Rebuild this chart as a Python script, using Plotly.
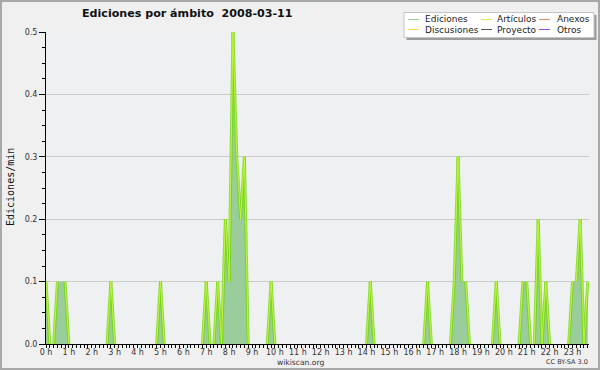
import plotly.graph_objects as go

# ---------------- data (edits per minute, 10-minute bins, 2008-03-11) ----------------
# one row per hour, 6 bins (00,10,20,30,40,50 min); last hour ends at 23:40
ediciones_by_hour = [
    [0.1, 0, 0, 0.1, 0.1, 0.1],   # 0 h
    [0, 0, 0, 0, 0, 0],           # 1 h
    [0, 0, 0, 0, 0, 0.1],         # 2 h
    [0, 0, 0, 0, 0, 0],           # 3 h
    [0, 0, 0, 0, 0, 0],           # 4 h
    [0.1, 0, 0, 0, 0, 0],         # 5 h
    [0, 0, 0, 0, 0, 0],           # 6 h
    [0.1, 0, 0, 0.1, 0, 0.2],     # 7 h
    [0.1, 0.5, 0.3, 0.2, 0.3, 0], # 8 h
    [0, 0, 0, 0, 0, 0.1],         # 9 h
    [0, 0, 0, 0, 0, 0],           # 10 h
    [0, 0, 0, 0, 0, 0],           # 11 h
    [0, 0, 0, 0, 0, 0],           # 12 h
    [0, 0, 0, 0, 0, 0],           # 13 h
    [0, 0.1, 0, 0, 0, 0],         # 14 h
    [0, 0, 0, 0, 0, 0],           # 15 h
    [0, 0, 0, 0, 0.1, 0],         # 16 h
    [0, 0, 0, 0, 0, 0.1],         # 17 h
    [0.3, 0.1, 0.1, 0, 0, 0],     # 18 h
    [0, 0, 0, 0, 0.1, 0],         # 19 h
    [0, 0, 0, 0, 0, 0.1],         # 20 h
    [0.1, 0, 0, 0.2, 0, 0.1],     # 21 h
    [0, 0, 0, 0, 0, 0],           # 22 h
    [0.1, 0.1, 0.2, 0, 0.1],      # 23 h
]
bin_minutes = [0, 10, 20, 30, 40, 50]

legend_names = ["Ediciones", "Artículos", "Anexos", "Discusiones", "Proyecto", "Otros"]
legend_colors = ["#8fd48f", "#c8f040", "#f08a5c", "#f8d458", "#555555", "#9a4cf0"]

title_text = "Ediciones por ámbito\u00a0 2008-03-11"
y_title = "Ediciones/min"
footer_text = "wikiscan.org"
license_text = "CC BY-SA 3.0"

# ---------------- build series ----------------
hours, ediciones = [], []
for h, row in enumerate(ediciones_by_hour):
    for m, v in zip(bin_minutes, row):
        hours.append(h + m / 60)
        ediciones.append(v)
articulos = list(ediciones)  # all edits are in article namespace

# sloped segments only (the reference pen shows only on rising/falling edges)
seg_x, seg_y = [], []
for i in range(len(hours) - 1):
    if articulos[i] != articulos[i + 1]:
        seg_x += [hours[i], hours[i + 1], None]
        seg_y += [articulos[i], articulos[i + 1], None]

# ---------------- geometry ----------------
W, H = 600, 370
L, R, T, B = 46, 11, 32, 26
PW, PH = W - L - R, H - T - B

def px(x):
    return (x - L) / PW

def py(y):
    return (H - B - y) / PH

FONT = "DejaVu Sans"

fig = go.Figure()
fig.add_trace(go.Scatter(
    x=hours, y=ediciones, mode="lines", line=dict(width=0, color="rgba(0,0,0,0)"),
    fill="tozeroy", fillcolor="rgba(148,201,148,0.93)", showlegend=False, hoverinfo="skip"))
fig.add_trace(go.Scatter(
    x=seg_x, y=seg_y, mode="lines", line=dict(width=3, color="rgba(112,212,0,0.75)"),
    showlegend=False, hoverinfo="skip"))
fig.add_trace(go.Scatter(
    x=seg_x, y=seg_y, mode="lines", line=dict(width=1, color="rgba(196,248,70,0.9)"),
    showlegend=False, hoverinfo="skip"))

shapes = []
annotations = []

# outer frame
shapes.append(dict(type="rect", xref="paper", yref="paper",
                   x0=px(1), x1=px(599), y0=py(369), y1=py(1),
                   line=dict(color="#a8a8a8", width=2), fillcolor="rgba(0,0,0,0)", layer="above"))

# legend box with shadow
bx0, bx1, by0, by1 = 404, 594, 12.5, 37.5
shapes.append(dict(type="rect", xref="paper", yref="paper",
                   x0=px(bx0 + 2.5), x1=px(bx1 + 2.5), y0=py(by1 + 2.5), y1=py(by0 + 2.5),
                   line=dict(width=0), fillcolor="#9c9c9c", layer="above"))
shapes.append(dict(type="rect", xref="paper", yref="paper",
                   x0=px(bx0), x1=px(bx1), y0=py(by1), y1=py(by0),
                   line=dict(color="#c4c4c4", width=1), fillcolor="#ffffff", layer="above"))
col_line_x = [408, 481, 539]
col_text_x = [423, 495, 555]
row_y = [19.5, 29.5]
for k, (name, col) in enumerate(zip(legend_names, legend_colors)):
    r, c = divmod(k, 3)
    shapes.append(dict(type="line", xref="paper", yref="paper",
                       x0=px(col_line_x[c]), x1=px(col_line_x[c] + 11),
                       y0=py(row_y[r]), y1=py(row_y[r]),
                       line=dict(color=col, width=1), layer="above"))
    annotations.append(dict(text=name, xref="paper", yref="paper",
                            x=px(col_text_x[c]), y=py(row_y[r]), xanchor="left", yanchor="middle",
                            showarrow=False, font=dict(family=FONT, size=9, color="#222222")))

# title
annotations.append(dict(text=f"<b>{title_text}</b>", xref="paper", yref="paper",
                        x=px(187.5), y=py(14), xanchor="center", yanchor="middle", showarrow=False,
                        font=dict(family=FONT, size=11.1, color="#111111")))
# y axis title
annotations.append(dict(text=y_title, xref="paper", yref="paper", x=px(10.5), y=py(187.5),
                        xanchor="center", yanchor="middle", textangle=-90, showarrow=False,
                        font=dict(family="DejaVu Sans Mono", size=10, color="#111111")))
# footer
annotations.append(dict(text=footer_text, xref="paper", yref="paper", x=px(300), y=py(362),
                        xanchor="center", yanchor="middle", showarrow=False,
                        font=dict(family=FONT, size=7.6, color="#333333")))
annotations.append(dict(text=license_text, xref="paper", yref="paper", x=px(590), y=py(362),
                        xanchor="right", yanchor="middle", showarrow=False,
                        font=dict(family=FONT, size=6.5, color="#333333")))

fig.update_layout(
    width=W, height=H, margin=dict(l=L, r=R, t=T, b=B, pad=0, autoexpand=False),
    paper_bgcolor="#f0f0f0", plot_bgcolor="#eef0f2",
    showlegend=False, shapes=shapes, annotations=annotations,
    xaxis=dict(range=[0, 23.72], tickmode="linear", tick0=0, dtick=1, ticksuffix=" h",
               tickformat="d", showgrid=False, zeroline=False, automargin=False,
               showline=True, linecolor="black", linewidth=1,
               ticks="outside", ticklen=3, tickcolor="black", tickwidth=1,
               ticklabelstandoff=-3,
               minor=dict(tickmode="linear", tick0=0, dtick=1 / 6, ticks="outside",
                          ticklen=3, tickcolor="black", tickwidth=1, showgrid=False),
               tickfont=dict(family=FONT, size=8, color="#333333"), fixedrange=True),
    yaxis=dict(range=[0, 0.5], tickmode="linear", tick0=0, dtick=0.1, tickformat=".1f",
               showgrid=True, gridcolor="#cbcbcb", gridwidth=1, zeroline=False, automargin=False,
               showline=True, linecolor="black", linewidth=1,
               ticks="outside", ticklen=6, tickcolor="black", tickwidth=1,
               minor=dict(tickmode="linear", tick0=0, dtick=0.025, ticks="outside",
                          ticklen=3, tickcolor="black", tickwidth=1, showgrid=False),
               tickfont=dict(family=FONT, size=8, color="#333333"), fixedrange=True),
)

fig.write_html("out.html")
